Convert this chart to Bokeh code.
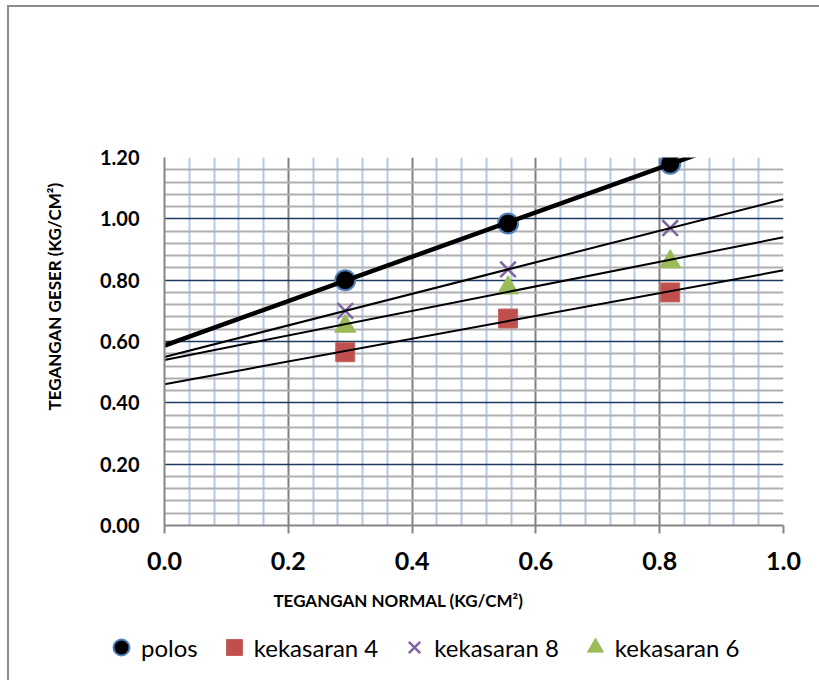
import numpy as np
from bokeh.plotting import figure
from bokeh.layouts import column
from bokeh.models import FixedTicker, Legend, LegendItem, Title, Label, NumeralTickFormatter
from bokeh.embed import file_html
from bokeh.resources import INLINE

# ---- data ----
x_normal = [0.292, 0.555, 0.817]
polos = [0.80, 0.985, 1.18]
kekasaran_4 = [0.565, 0.675, 0.76]
kekasaran_8 = [0.70, 0.835, 0.97]
kekasaran_6 = [0.65, 0.775, 0.86]

series_names = ["polos", "kekasaran 4", "kekasaran 8", "kekasaran 6"]

x_ticks = [0.0, 0.2, 0.4, 0.6, 0.8, 1.0]
x_tick_labels = ["0.0", "0.2", "0.4", "0.6", "0.8", "1.0"]
y_ticks = [0.0, 0.2, 0.4, 0.6, 0.8, 1.0, 1.2]
y_tick_labels = ["0.00", "0.20", "0.40", "0.60", "0.80", "1.00", "1.20"]

x_title = "TEGANGAN NORMAL  (KG/CM²)"
y_title = "TEGANGAN GESER (KG/CM²)"

FONT = "Lato"

# marker styles per series
styles = [
    dict(marker="circle", size=20, fill_color="black", line_color="#4f81bd", line_width=2),
    dict(marker="square", size=19, fill_color="#c0504d", line_color="#c8625f", line_width=1),
    dict(marker="x", size=22, line_color="#8064a2", line_width=2.5),
    dict(marker="triangle", size=21, fill_color="#9bbb59", line_color="#9bbb59"),
]
series = [polos, kekasaran_4, kekasaran_8, kekasaran_6]

W = 810
p = figure(width=W, height=578, x_range=(0, 1.0), y_range=(0, 1.2),
           output_backend="svg", toolbar_location=None,
           min_border_left=153, min_border_right=36,
           min_border_top=150, min_border_bottom=60)
p.frame_align = False
p.outline_line_color = None
p.background_fill_color = "white"
p.border_fill_color = "white"


def minor_between(major, step):
    vals = np.arange(major[0], major[-1] + step / 2, step)
    return [round(float(v), 4) for v in vals
            if min(abs(v - m) for m in major) > step / 4]


p.xaxis.ticker = FixedTicker(ticks=x_ticks, minor_ticks=minor_between(x_ticks, 0.04))
p.yaxis.ticker = FixedTicker(ticks=y_ticks, minor_ticks=minor_between(y_ticks, 0.04))
p.xaxis.formatter = NumeralTickFormatter(format="0.0")
p.yaxis.formatter = NumeralTickFormatter(format="0.00")
p.xaxis.major_label_overrides = dict(zip(x_ticks, x_tick_labels))
p.yaxis.major_label_overrides = dict(zip(y_ticks, y_tick_labels))

for ax in (p.xaxis, p.yaxis):
    ax.axis_line_color = "#868686"
    ax.axis_line_width = 2
    ax.minor_tick_out = 0
    ax.minor_tick_in = 0
    ax.major_tick_in = 0
    ax.major_label_text_font = FONT
    ax.major_label_text_font_style = "bold"
    ax.major_label_text_color = "black"

p.xaxis.major_tick_out = 8
p.xaxis.major_tick_line_color = "#868686"
p.xaxis.major_tick_line_width = 2
p.xaxis.major_label_text_font_size = "25px"
p.xaxis.major_label_standoff = 18

p.yaxis.major_tick_out = 0
p.yaxis.major_tick_line_color = None
p.yaxis.major_label_text_font_size = "20px"
p.yaxis.major_label_standoff = 25

p.xgrid.grid_line_color = "#808080"
p.xgrid.grid_line_width = 2
p.xgrid.minor_grid_line_color = "#b4c8e8"
p.xgrid.minor_grid_line_width = 2
p.ygrid.grid_line_color = "#1f3a60"
p.ygrid.grid_line_width = 1.5
p.ygrid.minor_grid_line_color = "#b0b0b0"
p.ygrid.minor_grid_line_width = 2

# markers
for ys, st in zip(series, styles):
    p.scatter(x_normal, ys, **st)

# linear trendlines (drawn over the markers)
x_line = [0.0, 1.0]
for ys, w in ((polos, 4.5), (kekasaran_8, 2), (kekasaran_6, 2), (kekasaran_4, 2)):
    m, b = np.polyfit(x_normal, ys, 1)
    p.line(x_line, [b + m * xv for xv in x_line], line_color="black", line_width=w)

p.add_layout(Title(text=y_title, align="left", offset=115, text_font=FONT,
                   text_font_style="bold", text_font_size="17px",
                   text_color="black", standoff=64), "left")

# ---- lower strip: x-axis title and legend ----
H2 = 95
q = figure(width=W, height=H2, x_range=(0, W), y_range=(0, H2),
           output_backend="svg", toolbar_location=None,
           x_axis_location=None, y_axis_location=None,
           min_border_left=0, min_border_right=0, min_border_top=0, min_border_bottom=0)
q.frame_align = False
q.outline_line_color = None
q.xgrid.visible = False
q.ygrid.visible = False
q.background_fill_color = "white"
q.border_fill_color = "white"

q.add_layout(Label(x=391, y=80, text=x_title, text_font=FONT, text_font_style="bold",
                   text_font_size="17px", text_align="center", text_baseline="middle",
                   text_color="black"))

# hidden copies of the series, used only to draw the legend swatches
leg_renderers = [q.scatter(x_normal, ys, visible=False, **st) for ys, st in zip(series, styles)]
legend = Legend(items=[LegendItem(label=n, renderers=[r])
                       for n, r in zip(series_names, leg_renderers)],
                orientation="horizontal", location=(92, 13),
                glyph_width=40, glyph_height=40, label_standoff=0, spacing=16,
                padding=0, margin=0, border_line_color=None,
                background_fill_alpha=0, inactive_fill_alpha=0,
                label_text_font=FONT,
                label_text_font_size="24px", label_text_color="black")
q.add_layout(legend)

layout = column(p, q, spacing=0)
layout.styles = {"margin-left": "7px", "margin-top": "5px",
                 "border-left": "2px solid #8c8c8c", "border-top": "2px solid #8c8c8c"}

open("out.html", "w").write(file_html(layout, INLINE))
